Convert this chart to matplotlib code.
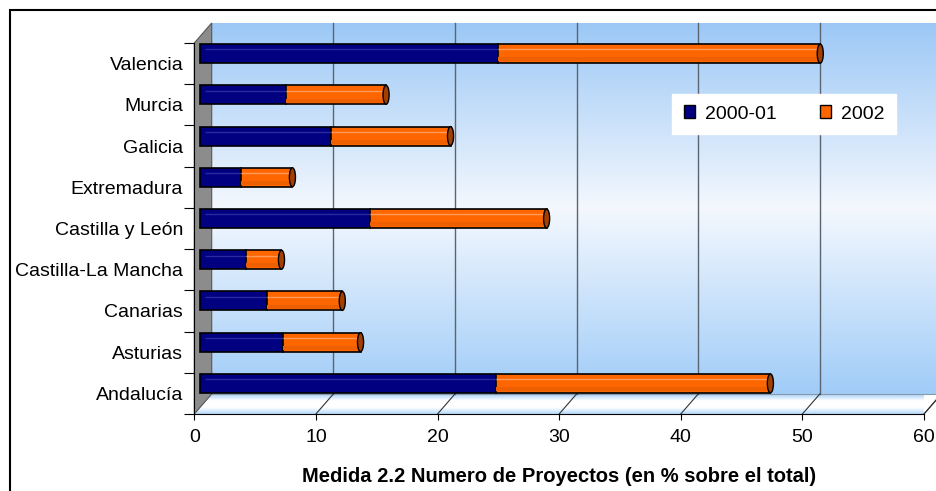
import numpy as np
import matplotlib
matplotlib.use("Agg")
import matplotlib.pyplot as plt
from matplotlib.patches import Rectangle, Polygon, Ellipse, Patch
from matplotlib.transforms import ScaledTranslation
from matplotlib.colors import LinearSegmentedColormap

# data (% of total projects)
regions = ["Andalucía", "Asturias", "Canarias", "Castilla-La Mancha", "Castilla y León",
           "Extremadura", "Galicia", "Murcia", "Valencia"]
v_2000_01 = [24.3, 6.8, 5.5, 3.8, 14.0, 3.4, 10.8, 7.1, 24.5]
v_2002 = [22.6, 6.4, 6.2, 2.9, 14.5, 4.2, 9.8, 8.2, 26.5]
series_names = ["2000-01", "2002"]
xticks = [0, 10, 20, 30, 40, 50, 60]

plt.rcParams['font.family'] = ['Liberation Sans', 'DejaVu Sans']

W, H = 936, 491
fig = plt.figure(figsize=(W / 100, H / 100), dpi=100)
ax = fig.add_axes([194.3 / W, (H - 414) / H, (924 - 194.3) / W, (414 - 43) / H])

n = len(regions)
y = np.arange(n)
ymin, ymax = -0.5, n - 0.5

# depth of the fake 3D box, in data units
px_x = (924 - 194.3) / 60
px_y = (414 - 43) / n
DX = 17.4 / px_x
DY = 20 / px_y

# back wall with gradient
wall_cmap = LinearSegmentedColormap.from_list("wall", ["#A0CCF8", "#F4F8FE", "#9CC8F6"])
grad = np.linspace(0, 1, 256).reshape(-1, 1)
wall = ax.imshow(grad, cmap=wall_cmap, extent=(DX, 62, ymin + DY, ymax + DY),
                 origin='lower', aspect='auto', interpolation='bilinear', zorder=0)
wall.set_clip_on(False)

# floor
floor = Polygon([(0, ymin), (60, ymin), (60 + DX, ymin + DY), (DX, ymin + DY)],
                closed=True, facecolor='none', edgecolor='none')
ax.add_patch(floor)
floor_cmap = LinearSegmentedColormap.from_list("floor", ["#B4D8FA", "#FFFFFF", "#FFFFFF", "#A8D0F8"])
fl = ax.imshow(grad, cmap=floor_cmap, extent=(0, 60 + DX, ymin, ymin + DY),
               origin='lower', aspect='auto', interpolation='bilinear', zorder=0.5)
fl.set_clip_path(floor)
ax.plot([DX, 60 + DX], [ymin + DY, ymin + DY], color="#8899AA", lw=0.8, zorder=0.6, clip_on=False)
ax.plot([60, 60 + DX], [ymin, ymin + DY], color="#333333", lw=0.8, zorder=0.6, clip_on=False)

# side wall
side = Polygon([(0, ymin), (DX, ymin + DY), (DX, ymax + DY), (0, ymax)], closed=True,
               facecolor="#8C8C8C", edgecolor="#555555", lw=0.8, zorder=1, clip_on=False)
ax.add_patch(side)

# gridlines on the back wall and floor
for k in xticks[1:-1]:
    ax.plot([k + DX, k + DX], [ymin + DY, ymax + DY], color="#5A6570", lw=1, zorder=1, clip_on=False)
for k in xticks[1:]:
    ax.plot([k, k + DX], [ymin, ymin + DY], color="#333333", lw=0.8, zorder=1, clip_on=False)

# bars sit half way into the box
mid = ax.transData + ScaledTranslation(5.7 / 100, 10 / 100, fig.dpi_scale_trans)
bh = 0.46
totals = np.array(v_2000_01) + np.array(v_2002)
ax.barh(y, v_2000_01, height=bh, color="#000080", edgecolor="black", lw=1.2,
        transform=mid, zorder=3, clip_on=False)
ax.barh(y, v_2002, left=v_2000_01, height=bh, color="#FF6600", edgecolor="black", lw=1.2,
        transform=mid, zorder=3, clip_on=False)
ax.hlines(y + bh * 0.22, 0.4, v_2000_01, colors="#2A2AA0", lw=1, transform=mid, zorder=4)
ax.hlines(y + bh * 0.22, v_2000_01, totals - 0.3, colors="#FF9A5A", lw=1, transform=mid, zorder=4)
ax.hlines(y - bh * 0.3, v_2000_01, totals - 0.3, colors="#EE5F00", lw=3, transform=mid, zorder=4)
for yi, t in zip(y, totals):
    ax.add_patch(Ellipse((t, yi), width=0.5, height=bh, facecolor="#A33F00",
                         edgecolor="black", lw=1, transform=mid, zorder=5, clip_on=False))

ax.set_xlim(0, 60)
ax.set_ylim(ymin, ymax)

# axes
for s in ['top', 'right']:
    ax.spines[s].set_visible(False)
ax.spines['left'].set_color('black')
ax.spines['bottom'].set_color('black')
ax.set_xticks(xticks)
ax.set_yticks(np.arange(ymin, n), labels=[])
ax.set_yticks(y, labels=regions, minor=True)
ax.tick_params(axis='y', which='major', length=7, direction='out')
ax.tick_params(axis='y', which='minor', length=0, pad=8, labelsize=14)
ax.tick_params(axis='x', length=4, pad=7, labelsize=14)
ax.set_xlabel("Medida 2.2 Numero de Proyectos (en % sobre el total)", fontweight='bold',
              fontsize=14.5, labelpad=15)

handles = [Patch(facecolor=c, edgecolor='black', label=nm)
           for c, nm in zip(["#000080", "#FF6600"], series_names)]
fig.legend(handles=handles, loc='center', bbox_to_anchor=(784 / W, 1 - 114 / H), ncol=2,
           frameon=True, fancybox=False, edgecolor='white', facecolor='white', framealpha=1,
           fontsize=14, handlelength=0.6, handleheight=0.6, columnspacing=2.2,
           handletextpad=0.5, borderpad=0.6, borderaxespad=0)

# outer frame of the chart
fig.add_artist(Rectangle((10 / W, -0.05), 1.1, (H - 10) / H + 0.05, transform=fig.transFigure,
                         fill=False, edgecolor='black', lw=1.5, clip_on=False))

fig.savefig("out.png", dpi=100)
